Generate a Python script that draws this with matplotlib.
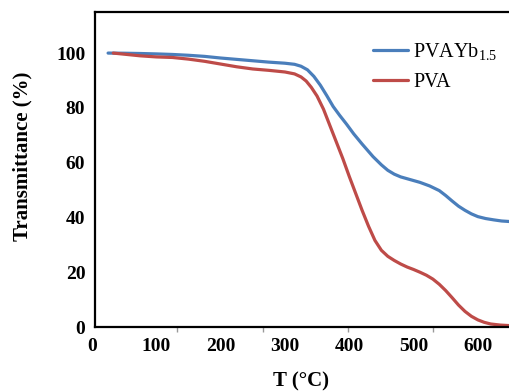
import matplotlib
matplotlib.use('Agg')
import matplotlib.pyplot as plt

plt.rcParams['font.family'] = ['Liberation Serif', 'DejaVu Serif']
plt.rcParams['mathtext.default'] = 'regular'

# ---- data ----
T_pvayb = [25, 50, 75, 100, 125, 150, 175, 200, 225, 250, 275, 300, 315, 325, 335,
           345, 355, 365, 375, 385, 396, 407, 420, 437, 450, 460, 470, 480, 495,
           510, 525, 540, 550, 560, 570, 580, 590, 600, 612, 625, 637, 650]
pvayb = [100, 99.95, 99.85, 99.7, 99.5, 99.2, 98.8, 98.2, 97.7, 97.2, 96.7, 96.3, 95.9, 95.2, 93.9,
         91.5, 88.3, 84.5, 80.5, 77.3, 74.0, 70.5, 66.8, 62.2, 59.2, 57.2, 55.8, 54.8, 53.8,
         52.8, 51.5, 49.8, 48.0, 46.0, 44.1, 42.6, 41.3, 40.3, 39.6, 39.1, 38.7, 38.5]

T_pva = [33, 50, 75, 100, 125, 150, 175, 200, 225, 250, 275, 300, 315, 325, 333,
         341, 350, 360, 370, 380, 390, 400, 410, 420, 430, 440, 450, 460, 470,
         480, 490, 500, 510, 520, 530, 540, 550, 560, 570, 580, 590, 600, 610,
         620, 635, 650]
pva = [100, 99.6, 99.0, 98.6, 98.4, 97.8, 97.0, 96.0, 95.0, 94.2, 93.7, 93.1, 92.4, 91.3, 89.8,
       87.5, 84.3, 79.5, 73.5, 67.5, 61.5, 55.0, 48.8, 42.6, 36.8, 31.6, 28.0, 25.8, 24.3,
       23.0, 21.9, 21.0, 20.0, 18.9, 17.5, 15.6, 13.3, 10.7, 8.0, 5.7, 3.9, 2.6, 1.7,
       1.1, 0.7, 0.5]

x_labels = [0, 100, 200, 300, 400, 500, 600]
x_marks = [132, 266, 398, 530]
y_ticks = [0, 20, 40, 60, 80, 100]

series_names = ['PVAYb$_{1.5}$', 'PVA']
colors = ['#4A7EBB', '#BE4B48']

# ---- figure ----
W, H = 510, 392
fig = plt.figure(figsize=(W / 100, H / 100), dpi=100)
ax = fig.add_axes([95 / W, (H - 327) / H, (510 - 95) / W, (327 - 12) / H])

ax.plot(T_pvayb, pvayb, color=colors[0], lw=2.3, label=series_names[0],
        solid_capstyle='round', solid_joinstyle='round', clip_on=False)
ax.plot(T_pva, pva, color=colors[1], lw=2.3, label=series_names[1],
        solid_capstyle='round', solid_joinstyle='round', clip_on=False)

ax.set_xlim(4.66, 650)
ax.set_ylim(0, 115)

for s in ['left', 'top', 'bottom']:
    ax.spines[s].set_linewidth(1.6)
    ax.spines[s].set_color('black')
ax.spines['right'].set_visible(False)

ax.set_yticks(y_ticks)
ax.set_yticklabels([str(v) for v in y_ticks], fontsize=14, fontweight='bold')
ax.tick_params(axis='y', length=0, pad=7)

ax.set_xticks(x_marks)
ax.set_xticklabels([''] * len(x_marks))
ax.tick_params(axis='x', length=3.5, width=1, color='#999999', direction='out')

for v in x_labels:
    ax.text(v, -0.063, str(v), transform=ax.get_xaxis_transform(),
            ha='center', va='center', fontsize=14, fontweight='bold', clip_on=False)

fig.text(301 / W, 1 - 381 / H, 'T (°C)', ha='center', va='center',
         fontsize=15, fontweight='bold')
fig.text(22 / W, 1 - 156 / H, 'Transmittance (%)', ha='center', va='center',
         rotation=90, fontsize=15, fontweight='bold')

leg = ax.legend(loc='upper left', bbox_to_anchor=(373 / W, 1 - 41 / H),
                bbox_transform=fig.transFigure, frameon=False, fontsize=14.5,
                handlelength=1.75, handletextpad=0.25, labelspacing=0.55,
                borderpad=0, borderaxespad=0)

fig.savefig('out.png', dpi=100)
